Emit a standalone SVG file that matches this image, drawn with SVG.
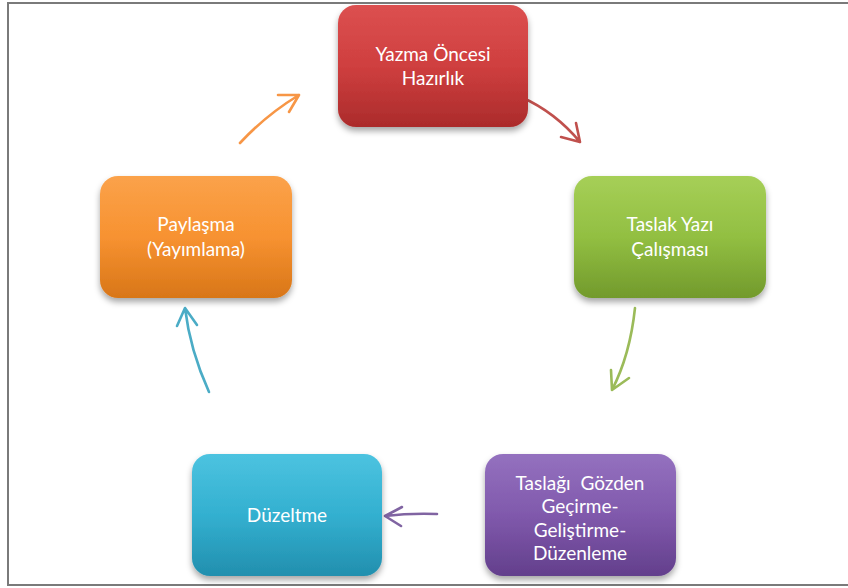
<svg xmlns="http://www.w3.org/2000/svg" width="848" height="588" viewBox="0 0 848 588">
<style>
.lbl{font-family:Lato,"Open Sans","Liberation Sans",sans-serif;font-size:19px;fill:#fff;text-anchor:middle;white-space:pre}
.box{filter:url(#sh)}
.con{fill:none;stroke-width:2.6;stroke-linecap:round;stroke-linejoin:round}
</style>
<defs>
<filter id="sh" x="-20%" y="-20%" width="140%" height="150%">
<feDropShadow dx="0" dy="4" stdDeviation="3" flood-color="#000" flood-opacity="0.35"/>
</filter>
<linearGradient id="gR" x1="0" y1="0" x2="0" y2="1"><stop offset="0" stop-color="#dc5050"/><stop offset="0.5" stop-color="#cf3f3f"/><stop offset="1" stop-color="#ab2b2b"/></linearGradient>
<linearGradient id="gG" x1="0" y1="0" x2="0" y2="1"><stop offset="0" stop-color="#a6cf57"/><stop offset="0.5" stop-color="#92bf42"/><stop offset="1" stop-color="#729a2c"/></linearGradient>
<linearGradient id="gP" x1="0" y1="0" x2="0" y2="1"><stop offset="0" stop-color="#9471bf"/><stop offset="0.5" stop-color="#8059ac"/><stop offset="1" stop-color="#633f8c"/></linearGradient>
<linearGradient id="gB" x1="0" y1="0" x2="0" y2="1"><stop offset="0" stop-color="#4cc3e0"/><stop offset="0.5" stop-color="#33b0d0"/><stop offset="1" stop-color="#228fae"/></linearGradient>
<linearGradient id="gO" x1="0" y1="0" x2="0" y2="1"><stop offset="0" stop-color="#fba24a"/><stop offset="0.5" stop-color="#f79231"/><stop offset="1" stop-color="#d87618"/></linearGradient>
</defs>
<rect x="8" y="3" width="850" height="582" fill="#fff" stroke="#7a7a7a" stroke-width="2"/>
<g id="connectors">
<path class="con" stroke="#c0504d" d="M521,97 Q555,112 580,142 M561,137 L580,142 L576,123"/>
<path class="con" stroke="#9bbb59" d="M635,308 Q630,355 612,390 M611,370 L612,390 L629,378"/>
<path class="con" stroke="#8064a2" d="M437,514 Q410,513 385,516 M402,507 L385,516 L401,526"/>
<path class="con" stroke="#4bacc6" d="M209,392 Q190,350 185,308 M177,326 L185,308 L197,325"/>
<path class="con" stroke="#f79646" d="M240,143 Q266,115 299,95 M278,95 L299,95 L289,112"/>
</g>
<g id="n1"><rect class="box" x="338" y="5" width="190" height="122" rx="18" fill="url(#gR)"/>
<text class="lbl" x="433" y="61">Yazma Öncesi</text><text class="lbl" x="433" y="85">Hazırlık</text></g>
<g id="n2"><rect class="box" x="574" y="176" width="192" height="122" rx="18" fill="url(#gG)"/>
<text class="lbl" x="670" y="231">Taslak Yazı</text><text class="lbl" x="670" y="256">Çalışması</text></g>
<g id="n3"><rect class="box" x="485" y="454" width="191" height="122" rx="18" fill="url(#gP)"/>
<text class="lbl" x="580" y="490">Taslağı  Gözden</text><text class="lbl" x="580" y="513">Geçirme-</text><text class="lbl" x="580" y="537">Geliştirme-</text><text class="lbl" x="580" y="560">Düzenleme</text></g>
<g id="n4"><rect class="box" x="192" y="454" width="190" height="122" rx="18" fill="url(#gB)"/>
<text class="lbl" x="287" y="522">Düzeltme</text></g>
<g id="n5"><rect class="box" x="100" y="176" width="192" height="122" rx="18" fill="url(#gO)"/>
<text class="lbl" x="196" y="231">Paylaşma</text><text class="lbl" x="196" y="256">(Yayımlama)</text></g>
</svg>
